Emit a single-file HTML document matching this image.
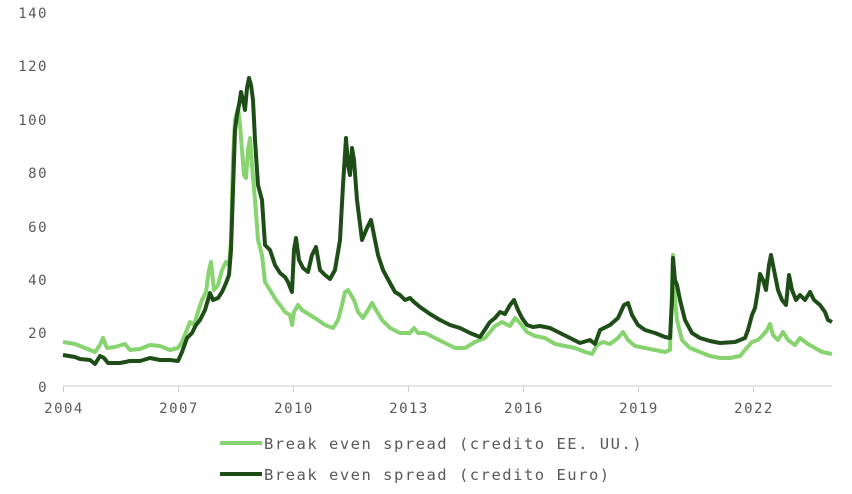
<!DOCTYPE html>
<html><head><meta charset="utf-8"><style>
html,body{margin:0;padding:0;background:#fff;}
svg{display:block;}
text{font-family:"DejaVu Sans Mono","Liberation Mono",monospace;fill:#595959;font-size:14px;letter-spacing:1.5px;}
</style></head><body>
<svg width="852" height="494" viewBox="0 0 852 494" xmlns="http://www.w3.org/2000/svg">
<g text-anchor="end">
<text x="48" y="18">140</text>
<text x="48" y="71">120</text>
<text x="48" y="125">100</text>
<text x="48" y="178">80</text>
<text x="48" y="232">60</text>
<text x="48" y="285">40</text>
<text x="48" y="338">20</text>
<text x="48" y="392">0</text>
</g>
<line x1="63" y1="386" x2="832" y2="386" stroke="#ccc" stroke-width="1"/>
<g stroke="#ccc" stroke-width="1">
<line x1="63.5" y1="386" x2="63.5" y2="392"/><line x1="178.5" y1="386" x2="178.5" y2="392"/><line x1="293.5" y1="386" x2="293.5" y2="392"/><line x1="408.5" y1="386" x2="408.5" y2="392"/><line x1="523.5" y1="386" x2="523.5" y2="392"/><line x1="638.5" y1="386" x2="638.5" y2="392"/><line x1="753.5" y1="386" x2="753.5" y2="392"/>
</g>
<g text-anchor="middle" style="font-size:15px">
<text x="64" y="413">2004</text><text x="179" y="413">2007</text><text x="294" y="413">2010</text><text x="409" y="413">2013</text><text x="524" y="413">2016</text><text x="639" y="413">2019</text><text x="754" y="413">2022</text>
</g>
<polyline fill="none" stroke="#86d36f" stroke-width="4" stroke-linejoin="round" points="63,342 75,344 85,348 95,352 100,345 103,338 107,348 115,347 125,344 130,350 140,349 150,345 160,346 170,350 178,348 182,342 186,332 190,322 194,325 198,312 202,300 206,292 209,270 211,262 214,290 218,285 222,270 226,262 229,265 231,240 233,160 235,120 238,108 240,125 242,150 244,175 246,178 248,150 250,138 252,165 255,200 258,240 262,255 265,282 270,290 276,300 280,305 285,312 290,315 292,325 294,312 298,305 302,310 310,315 318,320 325,325 333,328 338,320 342,305 345,292 348,290 351,295 354,300 358,312 363,318 368,310 372,303 376,310 382,320 390,328 400,333 410,333 414,328 418,333 425,333 435,338 445,343 455,348 465,348 475,342 485,338 495,326 502,322 510,326 515,318 520,323 527,332 535,336 545,338 555,344 565,346 575,348 585,352 592,354 597,345 603,342 610,344 618,338 623,332 628,340 635,346 645,348 655,350 665,352 670,350 672,290 673,255 675,300 677,320 682,340 690,348 700,352 710,356 720,358 730,358 740,356 745,350 752,342 758,340 763,335 767,330 770,324 773,335 778,340 783,332 788,340 795,345 800,338 808,344 815,348 822,352 832,354"/>
<polyline fill="none" stroke="#1e4d18" stroke-width="4" stroke-linejoin="round" points="63,355 75,357 80,359 90,360 95,364 100,356 104,358 108,363 120,363 130,361 140,361 150,358 160,360 170,360 178,361 182,352 187,338 192,333 196,325 200,320 205,310 210,293 213,300 218,298 222,292 226,283 229,275 231,250 233,190 235,130 237,115 239,105 241,92 243,100 245,110 247,88 249,78 251,85 253,100 255,140 258,185 262,200 265,245 270,250 275,265 280,273 285,277 288,282 292,292 294,250 296,238 299,260 303,268 308,272 312,255 316,247 320,270 325,275 330,279 335,270 340,240 343,185 346,138 348,165 350,175 352,148 354,160 357,200 362,240 367,228 371,220 374,235 378,255 383,270 390,283 395,292 400,295 405,300 410,298 414,302 420,307 430,314 440,320 450,325 460,328 470,333 480,337 490,322 495,318 500,312 505,314 510,305 514,300 518,310 522,318 527,325 533,327 540,326 550,328 560,333 570,338 580,343 590,340 595,344 600,330 610,325 618,318 624,305 628,303 632,315 638,325 645,330 655,333 665,337 670,338 672,300 673,258 675,280 677,285 680,300 685,320 692,333 700,338 710,341 720,343 735,342 745,338 748,330 752,315 755,308 758,290 760,274 763,280 766,290 769,265 771,255 774,270 778,290 782,300 786,305 789,275 792,290 796,300 800,295 805,300 810,292 814,300 820,305 825,312 828,320 832,322"/>
<line x1="220" y1="443" x2="262" y2="443" stroke="#86d36f" stroke-width="4"/>
<line x1="220" y1="474" x2="262" y2="474" stroke="#1e4d18" stroke-width="4"/>
<text x="264" y="449" style="font-size:15.5px">Break even spread (credito EE. UU.)</text>
<text x="264" y="480" style="font-size:15.5px">Break even spread (credito Euro)</text>
</svg>
</body></html>
